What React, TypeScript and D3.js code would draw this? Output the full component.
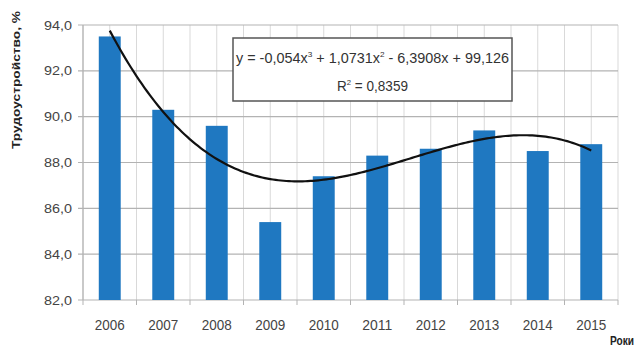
import React from "react";
import * as d3 from "d3";

const years = ["2006", "2007", "2008", "2009", "2010", "2011", "2012", "2013", "2014", "2015"];
const values = [93.5, 90.3, 89.6, 85.4, 87.4, 88.3, 88.6, 89.4, 88.5, 88.8];
const yTicks = [82, 84, 86, 88, 90, 92, 94];
const trendCoefs = [-0.054, 1.0731, -6.3908, 99.126]; // x^3, x^2, x, const
const equationParts = [
  { t: "y = -0,054x", sup: false },
  { t: "3", sup: true },
  { t: " + 1,0731x", sup: false },
  { t: "2", sup: true },
  { t: " - 6,3908x + 99,126", sup: false },
];
const r2Parts = [
  { t: "R", sup: false },
  { t: "2", sup: true },
  { t: " = 0,8359", sup: false },
];
const yLabel = "Трудоустройство, %";
const xLabel = "Роки";

const W = 644, H = 354;
const left = 83, right = 618, top = 25, bottom = 300;
const FONT = "'Liberation Sans', Arial, sans-serif";

function Parts({ parts }: { parts: { t: string; sup: boolean }[] }) {
  return (
    <>
      {parts.map((p, i) =>
        p.sup ? (
          <tspan key={i} fontSize={8} dy={-6}>{p.t}</tspan>
        ) : (
          <tspan key={i} dy={i > 0 && parts[i - 1].sup ? 6 : 0}>{p.t}</tspan>
        )
      )}
    </>
  );
}

export default function App() {
  const x = d3.scaleBand<string>().domain(years).range([left, right]).paddingInner(0.59).paddingOuter(0.295);
  const xb = d3.scaleBand<string>().domain(years).range([left, right]);
  const y = d3.scaleLinear().domain([82, 94]).range([bottom, top]);
  const trend = (t: number) =>
    trendCoefs[0] * t * t * t + trendCoefs[1] * t * t + trendCoefs[2] * t + trendCoefs[3];
  const tx = d3.scaleLinear().domain([1, years.length]).range([
    (xb(years[0]) as number) + xb.bandwidth() / 2,
    (xb(years[years.length - 1]) as number) + xb.bandwidth() / 2,
  ]);
  const pts = d3.range(1, years.length + 0.001, 0.05).map((t) => [tx(t), y(trend(t))] as [number, number]);
  const line = d3.line().curve(d3.curveLinear)(pts) || "";

  const vLines: number[] = [];
  years.forEach((yr) => {
    const b = xb(yr) as number;
    vLines.push(b, b + xb.bandwidth() / 2);
  });
  vLines.push(right);

  return (
    <svg width={W} height={H} style={{ position: "absolute", left: 0, top: 0, background: "#fff" }}>
      {vLines.map((v, i) => (
        <line key={"v" + i} x1={v} x2={v} y1={top} y2={bottom} stroke="#d9d9d9" strokeWidth={1} />
      ))}
      {yTicks.map((t) => (
        <g key={"h" + t}>
          <line x1={left - 5} x2={right} y1={y(t)} y2={y(t)} stroke="#b3b3b3" strokeWidth={1.2} />
          <text x={left - 11} y={y(t)} dy="0.35em" textAnchor="end" fontFamily={FONT} fontSize={13} fill="#444"
            textLength={28} lengthAdjust="spacingAndGlyphs">
            {t.toFixed(1).replace(".", ",")}
          </text>
        </g>
      ))}
      <line x1={left} x2={left} y1={top} y2={bottom} stroke="#b3b3b3" strokeWidth={1.2} />
      {years.map((yr) => (
        <line key={"t" + yr} x1={xb(yr)} x2={xb(yr)} y1={bottom} y2={bottom + 5} stroke="#b3b3b3" strokeWidth={1} />
      ))}
      <line x1={right} x2={right} y1={bottom} y2={bottom + 5} stroke="#b3b3b3" strokeWidth={1} />
      {years.map((yr, i) => (
        <rect key={yr} x={x(yr)} width={x.bandwidth()} y={y(values[i])} height={bottom - y(values[i])} fill="#1f78c1" />
      ))}
      <path d={line} fill="none" stroke="#111" strokeWidth={2.2} />
      {years.map((yr) => (
        <text key={"l" + yr} x={(xb(yr) as number) + xb.bandwidth() / 2 - 15} y={330} fontFamily={FONT} fontSize={14} fill="#444"
          textLength={30} lengthAdjust="spacingAndGlyphs">
          {yr}
        </text>
      ))}
      <rect x={233} y={38} width={279} height={63} fill="#fff" stroke="#555" strokeWidth={1.5} />
      <text x={236} y={63} fontFamily={FONT} fontSize={14} fill="#333" textLength={273} lengthAdjust="spacingAndGlyphs">
        <Parts parts={equationParts} />
      </text>
      <text x={337} y={91} fontFamily={FONT} fontSize={14} fill="#333" textLength={71} lengthAdjust="spacingAndGlyphs">
        <Parts parts={r2Parts} />
      </text>
      <text transform="translate(20,80) rotate(-90)" textAnchor="middle" fontFamily={FONT} fontSize={11} fontWeight="bold" fill="#222"
        textLength={138} lengthAdjust="spacingAndGlyphs">
        {yLabel}
      </text>
      <text x={610} y={345} fontFamily={FONT} fontSize={12} fontWeight="bold" fill="#222"
        textLength={24} lengthAdjust="spacingAndGlyphs">
        {xLabel}
      </text>
    </svg>
  );
}
